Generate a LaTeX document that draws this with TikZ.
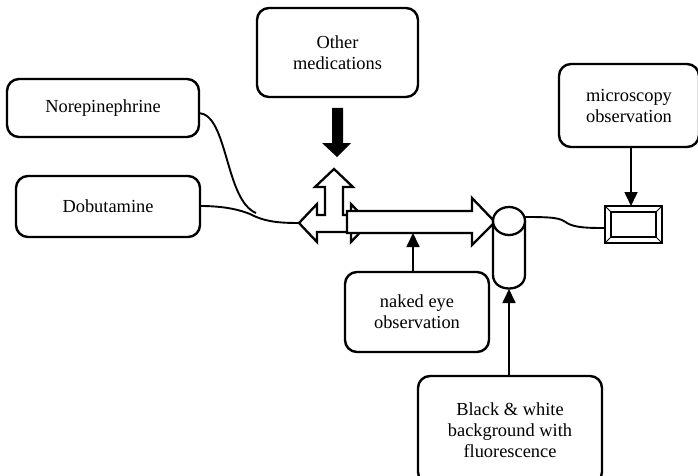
\documentclass[tikz,border=0pt]{standalone}
\usepackage{fontspec}
\setmainfont{Liberation Serif}
\usetikzlibrary{arrows.meta}
\begin{document}
\begin{tikzpicture}[x=1pt,y=-1pt,
  box/.style={draw,line width=2.4pt,rounded corners=12pt,align=center,
    font=\fontsize{18.4}{21}\selectfont,inner sep=0pt},
  conn/.style={line width=1.9pt},
  arr/.style={line width=1.7pt,-{Triangle[width=13pt,length=14pt]}},
  hollow/.style={draw,line width=2.3pt,fill=white,line join=miter}]
\useasboundingbox (0,0) rectangle (698,476);

% boxes
\node[box,minimum width=161pt,minimum height=89pt] (other) at (337.5,52.5) {Other\\medications};
\node[box,minimum width=192pt,minimum height=58pt] (nore) at (103,108) {Norepinephrine};
\node[box,minimum width=184pt,minimum height=61pt] (dobu) at (108,206.5) {Dobutamine};
\node[box,minimum width=140pt,minimum height=83pt] (micro) at (629,105.5) {microscopy\\observation};
\node[box,minimum width=144pt,minimum height=80pt] (naked) at (417,312) {naked eye\\observation};
\node[box,minimum width=184pt,minimum height=108pt] (bw) at (510,430) {Black \& white\\background with\\fluorescence};

% coordinates
\coordinate (noreEnd) at (199,113);
\coordinate (dobuEnd) at (200,206);
\coordinate (join) at (256,213);
\coordinate (tip3) at (299,223);
\coordinate (rarBot) at (413,233);
\coordinate (cylR) at (525,217);
\coordinate (cylB) at (509,289);
\coordinate (frL) at (605,228);
\coordinate (frT) at (631,206);

% black arrow (other medications)
\fill[black] (332,108) -- (343,108) -- (343,143) -- (351,143) -- (337,157)
  -- (322,143) -- (332,143) -- cycle;

% three-way hollow arrow
\draw[hollow] (299,223) -- (317,204) -- (317,215) -- (325,215) -- (325,187)
  -- (315,187) -- (334,169) -- (353,187) -- (343,187) -- (343,215)
  -- (351,215) -- (351,204) -- (369,223) -- (351,242) -- (351,232)
  -- (317,232) -- (317,242) -- cycle;

% long right hollow arrow
\draw[hollow] (347,211) -- (472,211) -- (472,198) -- (495,222) -- (472,245)
  -- (472,233) -- (347,233) -- cycle;

% cylinder
\draw[line width=2.3pt,fill=white] (493,221) -- (493,275)
  .. controls (493,293) and (525,293) .. (525,275) -- (525,221);
\draw[line width=2.3pt,fill=white] (509,221) ellipse [x radius=16, y radius=14];

% framed rectangle
\draw[line width=2.4pt] (605,206) rectangle (662,243);
\draw[line width=1.8pt] (611,212) rectangle (656,237);
\draw[line width=1pt] (605,206) -- (611,212) (662,206) -- (656,212)
  (605,243) -- (611,237) (662,243) -- (656,237);

% curves
\draw[conn] (noreEnd) .. controls (228,115) and (225,200) .. (join);
\draw[conn] (dobuEnd) .. controls (225,206) and (240,210) .. (250,214)
  .. controls (265,222) and (280,223) .. (tip3);
\draw[conn] (cylR) .. controls (555,217) and (560,218) .. (567,223)
  .. controls (575,228) and (590,228) .. (frL);

% arrows
\draw[arr] (rarBot |- naked.north) -- (rarBot);
\draw[arr] (cylB |- bw.north) -- (cylB);
\draw[arr] (frT |- micro.south) -- (frT);
\end{tikzpicture}
\end{document}
